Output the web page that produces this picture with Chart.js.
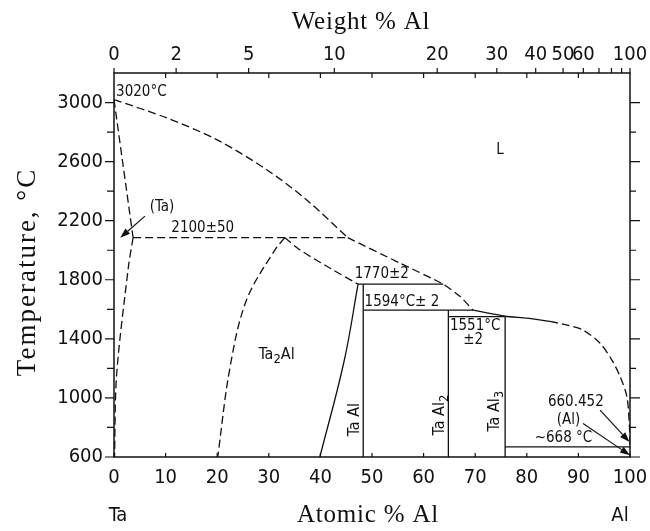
<!DOCTYPE html>
<html>
<head>
<meta charset="utf-8">
<script src="https://cdn.jsdelivr.net/npm/chart.js@4"></script>
<style>
  html, body { margin: 0; padding: 0; background: #fff; }
</style>
</head>
<body>
<canvas id="chart" width="650" height="531"></canvas>
<script>
// Axis ticks
const atomicTicks = [0, 10, 20, 30, 40, 50, 60, 70, 80, 90, 100];
const tempLabels = [600, 1000, 1400, 1800, 2200, 2600, 3000];
const tempMinor = [800, 1200, 1600, 2000, 2400, 2800];
const weightLabels = [0, 2, 5, 10, 20, 30, 40, 50, 60, 100];
const weightMinor = [70, 80, 90];

// Atomic masses, used to place the weight % scale on top
const M_AL = 26.98;
const M_TA = 180.95;

// Phase boundaries (atomic % Al, temperature in C)
const liquidusTa = [[0, 3020], [10.2, 2896], [19.9, 2749], [29.6, 2545], [37.3, 2342], [45.3, 2085]];
const liquidusEut = [[45.3, 2085], [55.4, 1913], [63.8, 1770], [67.1, 1686], [69.6, 1594]];
const liquidusMid = [[69.6, 1594], [75.8, 1553], [80, 1540], [84.5, 1518]];
const liquidusAl = [[84.5, 1518], [88, 1492], [90.9, 1460], [94.2, 1370], [96.5, 1256], [98.1, 1143],
                    [99.4, 1008], [99.9, 800], [100, 660]];
const solidusTa = [[0, 3020], [3.7, 2085]];
const solvusTa = [[3.7, 2085], [2.8, 1889], [0.5, 1155], [0.1, 600]];
const eutectic2100 = [[3.7, 2085], [45.3, 2085]];
const ta2AlLeft = [[33.1, 2085], [31.2, 2003], [25.7, 1664], [22.5, 1211], [20.1, 600]];
const ta2AlTop = [[33.1, 2085], [36, 2003], [41.9, 1878], [47.3, 1770]];
const ta2AlRight = [[47.3, 1770], [44.6, 1250], [39.9, 600]];
const peritectic1770 = [[47.3, 1770], [63.8, 1770]];
const taAlLine = [[48.3, 1770], [48.3, 600]];
const peritectic1594 = [[48.3, 1594], [69.6, 1594]];
const taAl2Line = [[64.8, 1594], [64.8, 600]];
const peritectic1551 = [[64.8, 1551], [75.8, 1551]];
const taAl3Line = [[75.8, 1551], [75.8, 600]];
const peritectic668 = [[75.8, 668], [100, 668]];

// Annotations (text, atomic %, temperature)
const notes = [
  ['3020°C', 5.3, 3071],
  ['L', 74.8, 2681],
  ['(Ta)', 9.3, 2294],
  ['2100±50', 17.2, 2150],
  ['1770±2', 51.9, 1840],
  ['1594°C± 2', 55.8, 1650],
  ['1551°C', 70.0, 1488],
  ['±2', 69.6, 1392],
  ['660.452', 89.5, 975],
  ['(Al)', 88.1, 849],
  ['~668 °C', 87.1, 731]
];
const phases = [
  [['Ta', 0], ['2', 1], ['Al', 0]],
  [['Ta Al', 0]],
  [['Ta Al', 0], ['2', 1]],
  [['Ta Al', 0], ['3', 1]]
];
const phasePos = [[31.5, 1290, 0], [46.7, 853, 1], [63.2, 884, 1], [73.8, 910, 1]];
const arrows = [
  [[6.0, 2231], [1.2, 2084]],
  [[94.2, 917], [99.9, 702]],
  [[90.9, 827], [100, 612]]
];

const SANS = "'DejaVu Sans Condensed', 'Liberation Sans Narrow', 'DejaVu Sans', sans-serif";
const SERIF = "'Liberation Serif', 'DejaVu Serif', serif";

function wtToAt(w) {
  const al = w / M_AL;
  const ta = (100 - w) / M_TA;
  return 100 * al / (al + ta);
}

function toXY(arr) {
  return arr.map(p => ({ x: p[0], y: p[1] }));
}

function line(data, dashed, tension) {
  return {
    data: toXY(data),
    showLine: true,
    borderColor: '#111',
    borderWidth: 1.3,
    borderDash: dashed ? [8, 4] : [],
    pointRadius: 0,
    tension: tension || 0,
    fill: false
  };
}

function drawChem(ctx, parts, x, y, rotate, size) {
  ctx.save();
  ctx.translate(x, y);
  if (rotate) ctx.rotate(-Math.PI / 2);
  const big = size + 'px ' + SANS;
  const small = Math.round(size * 0.8) + 'px ' + SANS;
  let total = 0;
  parts.forEach(p => {
    ctx.font = p[1] ? small : big;
    total += ctx.measureText(p[0]).width;
  });
  let cx = -total / 2;
  ctx.textAlign = 'left';
  ctx.textBaseline = 'middle';
  parts.forEach(p => {
    ctx.font = p[1] ? small : big;
    ctx.fillText(p[0], cx, p[1] ? 5 : 0);
    cx += ctx.measureText(p[0]).width;
  });
  ctx.restore();
}

function drawArrow(ctx, x1, y1, x2, y2) {
  const ang = Math.atan2(y2 - y1, x2 - x1);
  const len = 10, half = 3.5;
  ctx.beginPath();
  ctx.moveTo(x1, y1);
  ctx.lineTo(x2 - Math.cos(ang) * len, y2 - Math.sin(ang) * len);
  ctx.stroke();
  ctx.beginPath();
  ctx.moveTo(x2, y2);
  ctx.lineTo(x2 - Math.cos(ang) * len - Math.sin(ang) * half, y2 - Math.sin(ang) * len + Math.cos(ang) * half);
  ctx.lineTo(x2 - Math.cos(ang) * len + Math.sin(ang) * half, y2 - Math.sin(ang) * len - Math.cos(ang) * half);
  ctx.closePath();
  ctx.fill();
}

// Frame, ticks, labels and notes
const decorations = {
  id: 'decorations',
  afterDraw(chart) {
    const ctx = chart.ctx;
    const xs = chart.scales.x, ys = chart.scales.y;
    const a = chart.chartArea;
    ctx.save();
    ctx.strokeStyle = '#111';
    ctx.fillStyle = '#111';
    ctx.lineWidth = 1.5;
    ctx.strokeRect(a.left, a.top, a.right - a.left, a.bottom - a.top);

    ctx.lineWidth = 1.2;
    ctx.beginPath();
    // left and right temperature ticks
    tempLabels.forEach(t => {
      const y = ys.getPixelForValue(t);
      ctx.moveTo(a.left - 9, y); ctx.lineTo(a.left, y);
      ctx.moveTo(a.right, y); ctx.lineTo(a.right + 10, y);
    });
    tempMinor.forEach(t => {
      const y = ys.getPixelForValue(t);
      ctx.moveTo(a.left - 7, y); ctx.lineTo(a.left, y);
      ctx.moveTo(a.right, y); ctx.lineTo(a.right + 6, y);
    });
    // bottom atomic ticks and top atomic ticks, both pointing inward
    atomicTicks.forEach(v => {
      const x = xs.getPixelForValue(v);
      ctx.moveTo(x, a.bottom); ctx.lineTo(x, a.bottom - 4);
      if (v > 0 && v < 100) { ctx.moveTo(x, a.top); ctx.lineTo(x, a.top + 5); }
    });
    // top weight ticks (outward)
    weightLabels.concat(weightMinor).forEach(w => {
      const x = xs.getPixelForValue(wtToAt(w));
      ctx.moveTo(x, a.top); ctx.lineTo(x, a.top - 5);
    });
    ctx.stroke();

    // tick labels
    ctx.font = '20px ' + SANS;
    ctx.textBaseline = 'middle';
    ctx.textAlign = 'right';
    tempLabels.forEach(t => ctx.fillText(String(t), a.left - 11, ys.getPixelForValue(t)));
    ctx.textAlign = 'center';
    atomicTicks.forEach(v => ctx.fillText(String(v), xs.getPixelForValue(v), a.bottom + 21));
    weightLabels.forEach(w => ctx.fillText(String(w), xs.getPixelForValue(wtToAt(w)), a.top - 18));

    // axis titles
    ctx.font = '25px ' + SERIF;
    ctx.letterSpacing = '0.8px';
    ctx.fillText('Weight % Al', 361, 22);
    ctx.fillText('Atomic % Al', 368, 515);
    ctx.save();
    ctx.translate(28, 272);
    ctx.rotate(-Math.PI / 2);
    ctx.font = '27px ' + SERIF;
    ctx.letterSpacing = '2px';
    ctx.fillText('Temperature, °C', 0, 0);
    ctx.restore();
    ctx.letterSpacing = '0px';
    ctx.font = '20px ' + SANS;
    ctx.fillText('Ta', 118, 516);
    ctx.fillText('Al', 620, 516);

    // notes
    ctx.font = '15px ' + SANS;
    notes.forEach(n => ctx.fillText(n[0], xs.getPixelForValue(n[1]), ys.getPixelForValue(n[2])));
    phases.forEach((parts, i) => {
      const p = phasePos[i];
      drawChem(ctx, parts, xs.getPixelForValue(p[0]), ys.getPixelForValue(p[1]), p[2], 16);
    });

    ctx.lineWidth = 1.2;
    arrows.forEach(r => drawArrow(ctx,
      xs.getPixelForValue(r[0][0]), ys.getPixelForValue(r[0][1]),
      xs.getPixelForValue(r[1][0]), ys.getPixelForValue(r[1][1])));
    ctx.restore();
  }
};

new Chart(document.getElementById('chart'), {
  type: 'scatter',
  data: {
    datasets: [
      line(liquidusTa, true, 0.3),
      line(liquidusEut, true, 0.2),
      line(liquidusMid, false, 0.2),
      line(liquidusAl, true, 0.3),
      line(solidusTa, true),
      line(solvusTa, true, 0.3),
      line(eutectic2100, true),
      line(ta2AlLeft, true, 0.35),
      line(ta2AlTop, true, 0.3),
      line(ta2AlRight, false, 0.4),
      line(peritectic1770, false),
      line(taAlLine, false),
      line(peritectic1594, false),
      line(taAl2Line, false),
      line(peritectic1551, false),
      line(taAl3Line, false),
      line(peritectic668, false)
    ]
  },
  options: {
    responsive: false,
    animation: false,
    layout: { padding: { left: 114, right: 20, top: 73, bottom: 74 } },
    plugins: { legend: { display: false }, tooltip: { enabled: false } },
    scales: {
      x: { type: 'linear', min: 0, max: 100, display: false },
      y: { type: 'linear', min: 600, max: 3200, display: false }
    }
  },
  plugins: [decorations]
});
</script>
</body>
</html>
